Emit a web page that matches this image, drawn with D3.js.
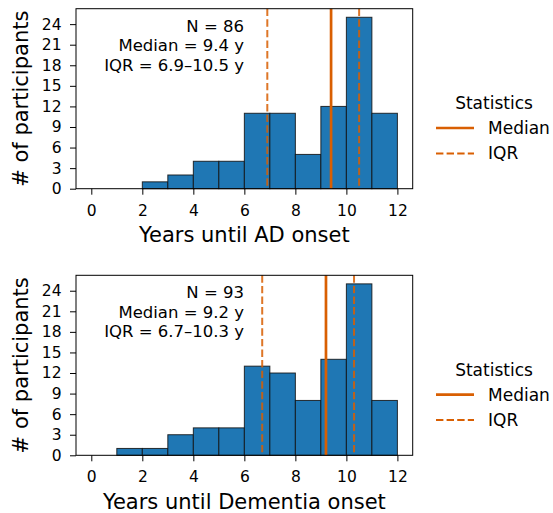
<!DOCTYPE html>
<html><head><meta charset="utf-8">
<script src="https://cdn.jsdelivr.net/npm/d3@7"></script>
<style>body{margin:0;background:#fff}svg{display:block}text{font-family:"DejaVu Sans",sans-serif;fill:#000}</style>
</head><body>
<svg id="c" width="553" height="513"></svg>
<script>
const binEdges = [0,1,2,3,4,5,6,7,8,9,10,11,12];
const xTicks = [0,2,4,6,8,10,12];
const yTicks = [0,3,6,9,12,15,18,21,24];
const adCounts = [0,0,1,2,4,4,11,11,5,12,25,11];
const demCounts = [0,1,1,3,4,4,13,12,8,14,25,8];
const adStats = {n:86, median:9.4, q1:6.9, q3:10.5};
const demStats = {n:93, median:9.2, q1:6.7, q3:10.3};
const panels = [
  {counts:adCounts, stats:adStats, xlabel:"Years until AD onset", top:8.7},
  {counts:demCounts, stats:demStats, xlabel:"Years until Dementia onset", top:275.3}
];
const legendItems = [{label:"Median", dash:null, w:2.7},{label:"IQR", dash:"7.4,3.2", w:2}];
const ORANGE = "#d95f02", BLUE = "#1f77b4";
const svg = d3.select("#c");
const L = 76, R = 412.7, H = 180;

panels.forEach(p => {
  const g = svg.append("g").attr("transform", `translate(0,${p.top})`);
  const x = d3.scaleLinear().domain([-0.6, 12.6]).range([L, R]);
  const y = d3.scaleLinear().domain([0, 26.25]).range([H, 0]);
  const bins = p.counts.map((c,i)=>({x0:binEdges[i], x1:binEdges[i+1], c}));
  g.selectAll("rect.bar").data(bins.filter(b=>b.c>0)).enter().append("rect")
    .attr("x", d=>x(d.x0)).attr("width", d=>x(d.x1)-x(d.x0))
    .attr("y", d=>y(d.c)).attr("height", d=>y(0)-y(d.c))
    .attr("fill", BLUE).attr("stroke", "#111").attr("stroke-opacity", 0.85).attr("stroke-width", 1);
  [p.stats.q1, p.stats.q3].forEach(v => {
    g.append("line").attr("x1", x(v)).attr("x2", x(v)).attr("y1", 0).attr("y2", H)
      .attr("stroke", ORANGE).attr("stroke-width", 2).attr("stroke-dasharray", "7.4,3.2").attr("opacity", 0.85);
  });
  g.append("line").attr("x1", x(p.stats.median)).attr("x2", x(p.stats.median)).attr("y1", 0).attr("y2", H)
    .attr("stroke", ORANGE).attr("stroke-width", 2.7);
  g.append("rect").attr("x", L).attr("y", 0).attr("width", R-L).attr("height", H)
    .attr("fill", "none").attr("stroke", "#000").attr("stroke-width", 1);
  const xa = g.append("g").attr("transform", `translate(0,${H})`)
    .call(d3.axisBottom(x).tickValues(xTicks).tickSize(6).tickPadding(10).tickFormat(d3.format("d")));
  const ya = g.append("g").attr("transform", `translate(${L},0)`)
    .call(d3.axisLeft(y).tickValues(yTicks).tickSize(6).tickPadding(8.5).tickFormat(d3.format("d")));
  [xa, ya].forEach(a => {
    a.select(".domain").remove();
    a.selectAll("line").attr("stroke", "#000");
    a.selectAll("text").style("font-family", '"DejaVu Sans",sans-serif').style("font-size", "15.5px").attr("fill","#000");
  });
  g.append("text").attr("x", (L+R)/2).attr("y", H+53.5).attr("text-anchor", "middle")
    .style("font-size", "21px").text(p.xlabel);
  g.append("text").attr("transform", `translate(28,${H/2}) rotate(-90)`).attr("text-anchor", "middle")
    .style("font-size", "21px").text("# of participants");
  const ann = [`N = ${p.stats.n}`, `Median = ${p.stats.median} y`, `IQR = ${p.stats.q1}\u2013${p.stats.q3} y`];
  ann.forEach((t,i) => g.append("text").attr("x", 244).attr("y", 23 + i*19.6)
    .attr("text-anchor", "end").style("font-size", "16.5px").text(t));
  const cy = H/2;
  g.append("text").attr("x", 494).attr("y", cy+10.5).attr("text-anchor", "middle")
    .style("font-size", "17px").text("Statistics");
  legendItems.forEach((it,i) => {
    const ly = cy + 29.3 + i*25.5;
    g.append("line").attr("x1", 436).attr("x2", 474).attr("y1", ly).attr("y2", ly)
      .attr("stroke", ORANGE).attr("stroke-width", it.w).attr("stroke-dasharray", it.dash);
    g.append("text").attr("x", 488).attr("y", ly+6).style("font-size", "17px").text(it.label);
  });
});
</script>
</body></html>
